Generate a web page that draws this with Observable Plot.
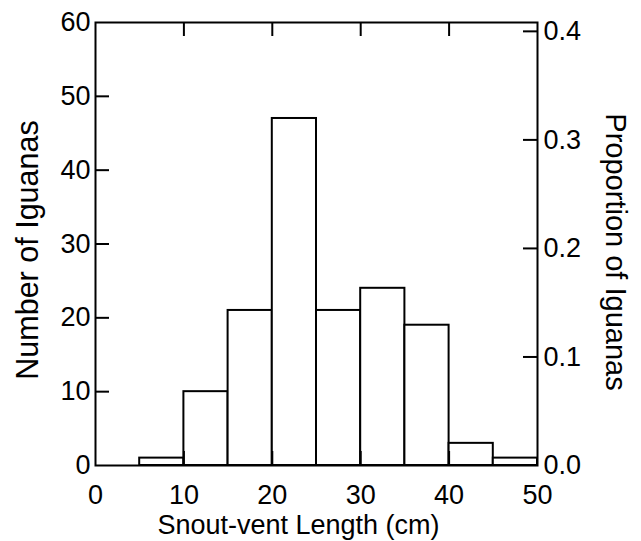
<!DOCTYPE html>
<html><head><meta charset="utf-8">
<script src="https://cdn.jsdelivr.net/npm/d3@7"></script>
<script src="https://cdn.jsdelivr.net/npm/@observablehq/plot@0.6"></script>
<style>body{margin:0;background:#fff} svg{display:block}</style>
</head><body><div id="chart"></div><script>
const binStarts = [5, 10, 15, 20, 25, 30, 35, 40, 45];
const binWidth = 5;
const counts = [1, 10, 21, 47, 21, 24, 19, 3, 1];
const xTicks = [0, 10, 20, 30, 40, 50];
const countTicks = [0, 10, 20, 30, 40, 50, 60];
const propTicks = [0, 0.1, 0.2, 0.3, 0.4];
const xTitle = "Snout-vent Length (cm)";
const yTitle = "Number of Iguanas";
const y2Title = "Proportion of Iguanas";

const total = d3.sum(counts);
const bins = binStarts.map((s, i) => ({x1: s, x2: s + binWidth, count: counts[i]}));

const W = 641, H = 541;
const mL = 95, mR = 104, mT = 22, mB = 76;
const pw = W - mL - mR, ph = H - mT - mB;
const tick = 14;
const font = "Liberation Sans, Arial, Helvetica, sans-serif";

const chart = Plot.plot({
  width: W, height: H,
  marginLeft: mL, marginRight: mR, marginTop: mT, marginBottom: mB,
  style: {fontFamily: font, color: "black", background: "white"},
  x: {domain: [0, 50], label: null},
  y: {domain: [0, 60], label: null},
  marks: [
    Plot.rectY(bins, {x1: "x1", x2: "x2", y: "count", fill: "white", stroke: "black", strokeWidth: 2}),
    // inward ticks
    Plot.ruleY(countTicks.filter(d => d > 0 && d < 60), {y: d => d, insetRight: pw - tick, stroke: "black", strokeWidth: 2}),
    Plot.ruleY(propTicks.filter(d => d > 0), {y: d => d * total, insetLeft: pw - tick, stroke: "black", strokeWidth: 2}),
    Plot.ruleX(xTicks.filter(d => d > 0 && d < 50), {x: d => d, insetBottom: ph - tick, stroke: "black", strokeWidth: 2}),
    Plot.ruleX(xTicks.filter(d => d > 0 && d < 50), {x: d => d, insetTop: ph - tick, stroke: "black", strokeWidth: 2}),
    Plot.frame({stroke: "black", strokeWidth: 2}),
    Plot.axisX({ticks: xTicks, tickSize: 0, tickPadding: 19, fontSize: 27, label: null, tickFormat: d => String(d)}),
    Plot.axisY({anchor: "left", ticks: countTicks, tickSize: 0, tickPadding: 5, fontSize: 27, label: null, tickFormat: d => String(d)}),
    Plot.axisY({anchor: "right", ticks: propTicks.map(p => p * total), tickSize: 0, tickPadding: 6, fontSize: 27, label: null, tickFormat: d => (d / total).toFixed(1)}),
    Plot.text([xTitle], {text: d => d, frameAnchor: "bottom", dy: 60, dx: -18, fontSize: 27, lineAnchor: "middle"}),
    Plot.text([yTitle], {text: d => d, frameAnchor: "left", textAnchor: "middle", dx: -67, dy: 6, rotate: -90, fontSize: 30.5, lineAnchor: "middle"}),
    Plot.text([y2Title], {text: d => d, frameAnchor: "right", textAnchor: "middle", dx: 78, dy: 8, rotate: 90, fontSize: 29, lineAnchor: "middle"})
  ]
});
document.getElementById("chart").appendChild(chart);
</script></body></html>
